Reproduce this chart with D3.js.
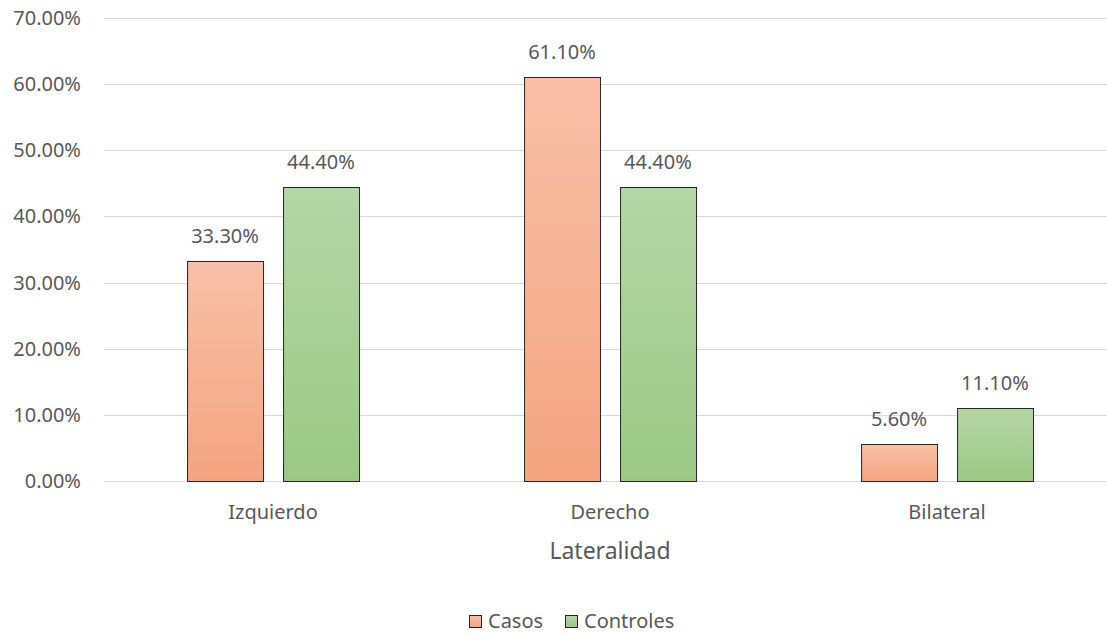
<!DOCTYPE html>
<html><head><meta charset="utf-8">
<script src="https://cdn.jsdelivr.net/npm/d3@7"></script>
<style>body{margin:0;background:#fff}text{font-family:"Noto Sans",sans-serif;fill:#595959}</style>
</head><body><svg id="c" width="1107" height="635"></svg>
<script>
const categories = ["Izquierdo","Derecho","Bilateral"];
const seriesNames = ["Casos","Controles"];
const casos = [33.3, 61.1, 5.6];
const controles = [44.4, 44.4, 11.1];
const yTicks = [0,10,20,30,40,50,60,70];
const axisTitle = "Lateralidad";

const svg = d3.select("#c");
const colors = {Casos:["#f8c0a7","#f4a480"], Controles:["#b5d6a6","#9bc985"]};
const defs = svg.append("defs");
seriesNames.forEach((s,i)=>{
  const g = defs.append("linearGradient").attr("id","g"+i).attr("x1",0).attr("y1",0).attr("x2",0).attr("y2",1);
  g.append("stop").attr("offset","0%").attr("stop-color",colors[s][0]);
  g.append("stop").attr("offset","100%").attr("stop-color",colors[s][1]);
});

const y = d3.scaleLinear().domain([0,70]).range([481,18]);
const x0 = d3.scaleBand().domain(categories).range([104.5,1115.5]).paddingInner(0.49).paddingOuter(0.245);
const x1 = d3.scaleBand().domain(seriesNames).range([0,x0.bandwidth()]).paddingInner(0.208);

// gridlines
svg.append("g").selectAll("line").data(yTicks).join("line")
  .attr("x1",104).attr("x2",1115).attr("y1",d=>Math.round(y(d))+0.5).attr("y2",d=>Math.round(y(d))+0.5)
  .attr("stroke","#d9d9d9").attr("stroke-width",1);
svg.append("g").selectAll("text").data(yTicks).join("text")
  .attr("x",81).attr("y",d=>y(d)+7).attr("text-anchor","end").attr("font-size",20)
  .text(d=>d.toFixed(2)+"%");

const data = categories.map((c,i)=>({c, vals:[{s:"Casos",v:casos[i],k:0},{s:"Controles",v:controles[i],k:1}]}));
const grp = svg.append("g").selectAll("g").data(data).join("g").attr("transform",d=>`translate(${x0(d.c)},0)`);
grp.selectAll("rect").data(d=>d.vals).join("rect")
  .attr("x",d=>Math.round(x1(d.s))+0.5).attr("y",d=>Math.round(y(d.v))+0.5)
  .attr("width",x1.bandwidth()).attr("height",d=>Math.round(y(0))-Math.round(y(d.v)))
  .attr("fill",d=>`url(#g${d.k})`).attr("stroke","#262626").attr("stroke-width",1);
grp.selectAll("text").data(d=>d.vals).join("text")
  .attr("x",d=>x1(d.s)+x1.bandwidth()/2).attr("y",d=>y(d.v)-18)
  .attr("text-anchor","middle").attr("font-size",20).text(d=>d.v.toFixed(2)+"%");

// category labels
svg.append("g").selectAll("text").data(categories).join("text")
  .attr("x",d=>x0(d)+x0.bandwidth()/2).attr("y",519).attr("text-anchor","middle").attr("font-size",20).text(d=>d);
svg.append("text").attr("x",610).attr("y",559).attr("text-anchor","middle").attr("font-size",23).text(axisTitle);

// legend
const leg = [{s:"Casos",x:469,k:0},{s:"Controles",x:565,k:1}];
const lg = svg.append("g").selectAll("g").data(leg).join("g").attr("transform",d=>`translate(${d.x},0)`);
lg.append("rect").attr("x",0.5).attr("y",615.5).attr("width",12).attr("height",12)
  .attr("fill",d=>`url(#g${d.k})`).attr("stroke","#262626");
lg.append("text").attr("x",19).attr("y",628).attr("font-size",20).text(d=>d.s);
</script></body></html>
